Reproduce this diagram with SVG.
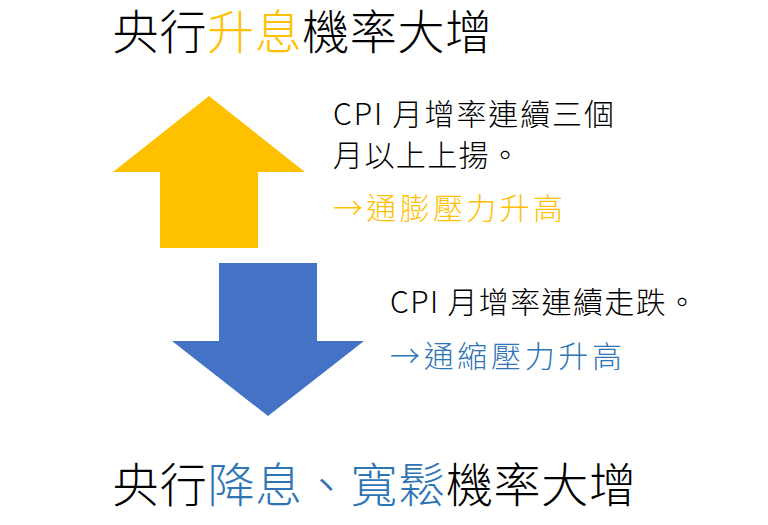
<svg xmlns="http://www.w3.org/2000/svg" width="768" height="525" viewBox="0 0 768 525">
<style>
text{font-family:"Noto Sans CJK TC","Noto Sans",sans-serif;fill:#000;font-weight:300}
.t{font-size:47px}
.s{font-size:30px}
.o{fill:#FFC000}
.b{fill:#2E75B6}
</style>
<rect width="768" height="525" fill="#fff"/>
<g id="title-top"><text class="t" x="112" y="49" textLength="380" lengthAdjust="spacing">央行<tspan class="o">升息</tspan>機率大增</text></g>
<g id="arrow-up"><polygon points="209,96 305,172 258,172 258,248 160,248 160,172 113,172" fill="#FFC000"/></g>
<g id="arrow-down"><polygon points="219,263 317,263 317,341 364,341 268,416 172,341 219,341" fill="#4472C4"/></g>
<g id="text-up">
<text class="s" x="333" y="125" textLength="281" lengthAdjust="spacing">CPI 月增率連續三個</text>
<text class="s" x="333" y="166" textLength="187" lengthAdjust="spacing">月以上上揚。</text>
<text class="s o" x="333" y="219" textLength="230" lengthAdjust="spacing">→通膨壓力升高</text>
</g>
<g id="text-down">
<text class="s" x="390" y="313" textLength="307" lengthAdjust="spacing">CPI 月增率連續走跌。</text>
<text class="s b" x="390" y="367" textLength="232" lengthAdjust="spacing">→通縮壓力升高</text>
</g>
<g id="title-bottom"><text class="t" x="112" y="502" textLength="524" lengthAdjust="spacing">央行<tspan class="b">降息、寬鬆</tspan>機率大增</text></g>
<g id="connectors"></g>
</svg>
